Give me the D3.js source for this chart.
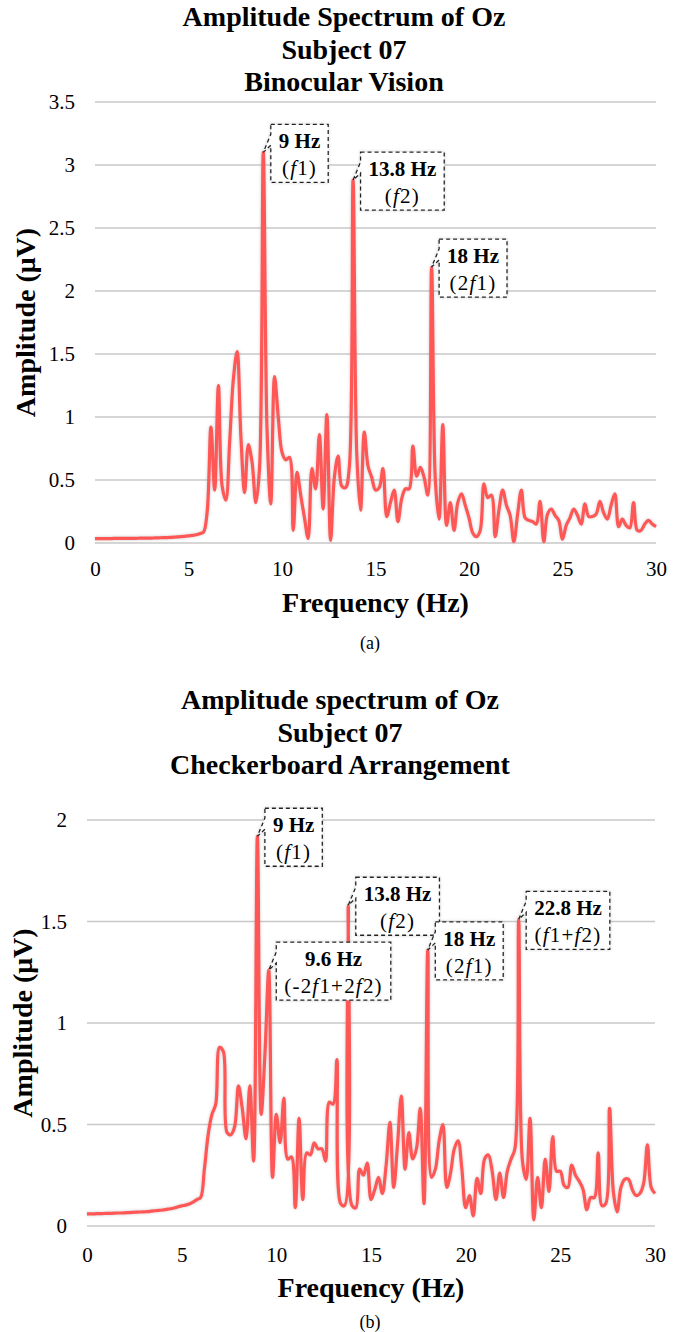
<!DOCTYPE html>
<html>
  <head>
    <title>Amplitude Spectrum of Oz</title>
    <script src="https://d3js.org/d3.v7.min.js"></script>
    <style>
      body { margin: 0; background: #fff; }
      text { font-family: "Liberation Serif", "Times New Roman", serif; fill: #000; }
    </style>
  </head>
  <body>
    <svg width="690" height="1332"></svg>
    <script>
      // spectrum bins, 0.2 Hz apart, 0 .. 30 Hz
      const freqStep = 0.2;
      const xTicks = [0, 5, 10, 15, 20, 25, 30];
      const yTicksA = [0, 0.5, 1, 1.5, 2, 2.5, 3, 3.5];
      const yTicksB = [0, 0.5, 1, 1.5, 2];

      const titleA = ["Amplitude Spectrum of Oz", "Subject 07", "Binocular Vision"];
      const titleB = ["Amplitude spectrum of Oz", "Subject 07", "Checkerboard Arrangement"];

      const ampA = [
        0.035, 0.035, 0.035, 0.035, 0.035, 0.036, 0.036, 0.036, 0.036, 0.037,
        0.037, 0.037, 0.038, 0.038, 0.039, 0.039, 0.040, 0.041, 0.042, 0.043,
        0.044, 0.046, 0.048, 0.050, 0.053, 0.056, 0.060, 0.066, 0.074, 0.085,
        0.25, 0.92, 0.42, 1.25, 0.45, 0.34, 0.80, 1.30, 1.52, 0.85,
        0.40, 0.78, 0.64, 0.32, 0.60, 3.10, 0.90, 0.31, 1.32, 1.00,
        0.72, 0.66, 0.68, 0.10, 0.56, 0.38, 0.20, 0.035, 0.59, 0.43,
        0.86, 0.27, 1.02, 0.02, 0.52, 0.69, 0.45, 0.44, 0.60, 2.88,
        0.70, 0.26, 0.88, 0.61, 0.52, 0.42, 0.44, 0.59, 0.21, 0.32,
        0.42, 0.17, 0.35, 0.43, 0.43, 0.77, 0.53, 0.60, 0.52, 0.38,
        2.19, 0.50, 0.19, 0.94, 0.14, 0.32, 0.10, 0.32, 0.39, 0.30,
        0.20, 0.08, 0.05, 0.10, 0.47, 0.36, 0.38, 0.05, 0.26, 0.42,
        0.30, 0.22, 0.01, 0.23, 0.42, 0.20, 0.18, 0.17, 0.15, 0.33,
        0.01, 0.23, 0.27, 0.22, 0.18, 0.03, 0.14, 0.20, 0.27, 0.22,
        0.15, 0.31, 0.21, 0.21, 0.23, 0.33, 0.24, 0.19, 0.30, 0.39,
        0.13, 0.19, 0.14, 0.12, 0.32, 0.10, 0.10, 0.15, 0.18, 0.15,
        0.13
      ];

      const ampB = [
        0.060, 0.060, 0.060, 0.061, 0.061, 0.062, 0.062, 0.063, 0.064, 0.064,
        0.065, 0.066, 0.067, 0.068, 0.069, 0.070, 0.071, 0.073, 0.075, 0.077,
        0.079, 0.082, 0.085, 0.089, 0.094, 0.099, 0.103, 0.108, 0.118, 0.130,
        0.14, 0.28, 0.45, 0.55, 0.60, 0.88, 0.86, 0.46, 0.45, 0.49,
        0.69, 0.58, 0.43, 0.69, 0.32, 1.92, 0.55, 0.85, 1.26, 0.24,
        0.55, 0.41, 0.63, 0.33, 0.34, 0.09, 0.53, 0.13, 0.36, 0.35,
        0.41, 0.38, 0.38, 0.32, 0.61, 0.60, 0.82, 0.11, 0.10, 1.58,
        0.10, 0.09, 0.28, 0.25, 0.31, 0.13, 0.18, 0.24, 0.16, 0.30,
        0.51, 0.19, 0.40, 0.64, 0.28, 0.46, 0.33, 0.38, 0.58, 0.11,
        1.36, 0.24, 0.28, 0.42, 0.50, 0.19, 0.26, 0.38, 0.42, 0.28,
        0.09, 0.15, 0.05, 0.235, 0.16, 0.33, 0.35, 0.27, 0.13, 0.26,
        0.14, 0.27, 0.33, 0.38, 1.51, 0.32, 0.23, 0.53, 0.03, 0.24,
        0.09, 0.33, 0.17, 0.44, 0.27, 0.27, 0.20, 0.19, 0.30, 0.25,
        0.22, 0.18, 0.08, 0.14, 0.14, 0.36, 0.10, 0.11, 0.58, 0.17,
        0.07, 0.19, 0.23, 0.23, 0.18, 0.15, 0.16, 0.21, 0.40, 0.19,
        0.16
      ];

      // labelled peaks: frequency, first line (bold), second line (f in italics)
      const peaksA = [
        {f: 9,    hz: "9 Hz",    term: "(f1)"},
        {f: 13.8, hz: "13.8 Hz", term: "(f2)"},
        {f: 18,   hz: "18 Hz",   term: "(2f1)"}
      ];
      const peaksB = [
        {f: 9,    hz: "9 Hz",    term: "(f1)"},
        {f: 9.6,  hz: "9.6 Hz",  term: "(-2f1+2f2)"},
        {f: 13.8, hz: "13.8 Hz", term: "(f2)"},
        {f: 18,   hz: "18 Hz",   term: "(2f1)"},
        {f: 22.8, hz: "22.8 Hz", term: "(f1+f2)"}
      ];

      const svg = d3.select("svg");

      const defs = svg.append("defs");
      const glow = defs.append("filter").attr("id", "glow")
        .attr("x", "-10%").attr("y", "-10%").attr("width", "120%").attr("height", "120%");
      glow.append("feGaussianBlur").attr("in", "SourceAlpha").attr("stdDeviation", 1.6).attr("result", "b");
      glow.append("feFlood").attr("flood-color", "#888").attr("flood-opacity", 0.45);
      glow.append("feComposite").attr("in2", "b").attr("operator", "in").attr("result", "s");
      const merge = glow.append("feMerge");
      merge.append("feMergeNode").attr("in", "s");
      merge.append("feMergeNode").attr("in", "SourceGraphic");

      function drawChart(cfg) {
        const points = cfg.values.map((v, i) => ({f: i * freqStep, v: v}));

        const x = d3.scaleLinear().domain([0, 30]).range([cfg.left, cfg.right]);
        const y = d3.scaleLinear().domain([0, cfg.yMax]).range([cfg.bottom, cfg.top]);

        const g = svg.append("g");

        // titles
        g.selectAll(".title").data(cfg.title).enter().append("text")
          .attr("x", cfg.titleX)
          .attr("y", (d, i) => cfg.titleY + i * 32.5)
          .attr("text-anchor", "middle")
          .attr("font-size", 28)
          .attr("font-weight", "bold")
          .text(d => d);

        // grid
        g.selectAll(".grid").data(cfg.yTicks).enter().append("line")
          .attr("x1", cfg.left).attr("x2", cfg.right)
          .attr("y1", d => y(d)).attr("y2", d => y(d))
          .attr("stroke", "#c8c8c8").attr("stroke-width", 1.3);

        const yAxis = g.append("g")
          .attr("transform", `translate(${cfg.left},0)`)
          .call(d3.axisLeft(y).tickValues(cfg.yTicks).tickFormat(d3.format("~g"))
            .tickSize(0).tickPadding(20));
        const xAxis = g.append("g")
          .attr("transform", `translate(0,${cfg.bottom})`)
          .call(d3.axisBottom(x).tickValues(xTicks).tickSize(0).tickPadding(cfg.xPad));
        [yAxis, xAxis].forEach(a => {
          a.select(".domain").remove();
          a.selectAll("text").attr("font-size", 21)
            .attr("font-family", "'Liberation Serif', 'Times New Roman', serif").attr("fill", "#000");
        });

        g.append("text")
          .attr("transform", `translate(${cfg.yTitleX},${(cfg.top + cfg.bottom) / 2}) rotate(-90)`)
          .attr("text-anchor", "middle")
          .attr("font-size", 28).attr("font-weight", "bold")
          .text("Amplitude (μV)");

        g.append("text")
          .attr("x", (cfg.left + cfg.right) / 2).attr("y", cfg.xTitleY)
          .attr("text-anchor", "middle")
          .attr("font-size", 28).attr("font-weight", "bold")
          .text("Frequency (Hz)");

        g.append("text")
          .attr("x", 370).attr("y", cfg.captionY)
          .attr("text-anchor", "middle")
          .attr("font-size", 18)
          .text(cfg.caption);

        const line = d3.line()
          .x(d => x(d.f)).y(d => y(d.v))
          .curve(d3.curveCatmullRom.alpha(0.5));

        g.append("path")
          .datum(points)
          .attr("d", line)
          .attr("fill", "none")
          .attr("stroke", "#ff5757")
          .attr("stroke-width", 3.2)
          .attr("stroke-linejoin", "round")
          .attr("filter", "url(#glow)");

        // callouts
        const boxH = 58, offX = 7.5, offY = -28;
        cfg.peaks.forEach(p => {
          const idx = Math.round(p.f / freqStep);
          const tx = x(p.f), ty = y(cfg.values[idx]);
          const bx = tx + offX, by = ty + offY;
          const c = g.append("g");
          const path = c.append("path");
          const t1 = c.append("text")
            .attr("y", by + 24)
            .attr("text-anchor", "middle")
            .attr("font-size", 21).attr("font-weight", "bold")
            .text(p.hz);
          const t2 = c.append("text")
            .attr("y", by + 51)
            .attr("text-anchor", "middle")
            .attr("font-size", 21)
            .attr("letter-spacing", 1.2);
          p.term.split(/(f)/).filter(s => s.length).forEach(s => {
            t2.append("tspan")
              .attr("font-style", s === "f" ? "italic" : "normal")
              .text(s);
          });
          const w = Math.max(t1.node().getComputedTextLength(), t2.node().getComputedTextLength()) + 16;
          t1.attr("x", bx + w / 2);
          t2.attr("x", bx + w / 2);
          const d = [
            `M${bx},${by}`, `H${bx + w}`, `V${by + boxH}`, `H${bx}`,
            `V${by + boxH * 0.36}`, `L${tx},${ty}`, `L${bx},${by + boxH * 0.17}`, "Z"
          ].join(" ");
          path.attr("d", d)
            .attr("fill", "#fff")
            .attr("stroke", "#222")
            .attr("stroke-width", 1.3)
            .attr("stroke-dasharray", "4,3")
            .attr("filter", "url(#glow)");
        });
      }

      drawChart({
        values: ampA, peaks: peaksA, title: titleA, yTicks: yTicksA, yMax: 3.5,
        left: 95, right: 656, top: 102, bottom: 543,
        titleX: 344, titleY: 26, yTitleX: 35, xPad: 18, xTitleY: 612,
        caption: "(a)", captionY: 649
      });

      drawChart({
        values: ampB, peaks: peaksB, title: titleB, yTicks: yTicksB, yMax: 2,
        left: 87, right: 655, top: 820, bottom: 1226,
        titleX: 340, titleY: 709, yTitleX: 32, xPad: 21, xTitleY: 1297,
        caption: "(b)", captionY: 1328
      });
    </script>
  </body>
</html>
